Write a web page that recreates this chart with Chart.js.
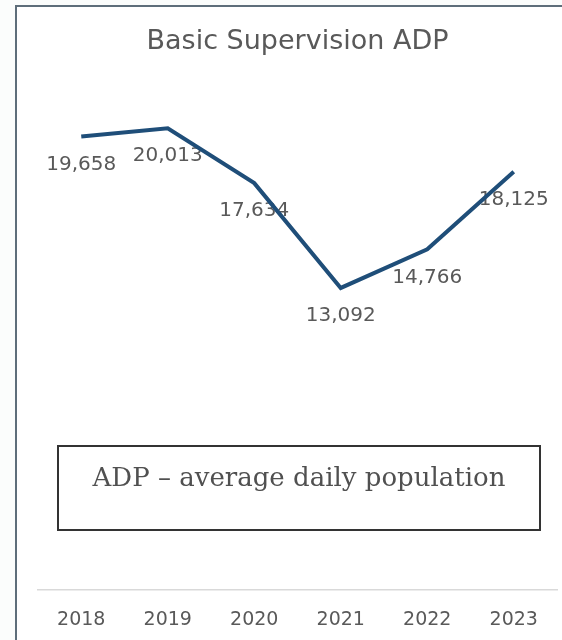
<!DOCTYPE html>
<html>
<head>
<meta charset="utf-8">
<script src="https://cdn.jsdelivr.net/npm/chart.js@4"></script>
<style>
  html, body { margin: 0; padding: 0; background: #fbfdfc; }
  #frame {
    position: absolute; left: 15px; top: 5px; width: 545px; height: 633px;
    border-left: 2px solid #5e6e7a; border-top: 2px solid #5e6e7a;
    background: #ffffff;
  }
  #chart { position: absolute; left: 0; top: 0; }
  #note {
    position: absolute; left: 40px; top: 438px; width: 484px; height: 86px;
    border: 2px solid #333333; box-sizing: border-box;
    font-family: "DejaVu Serif", serif; font-size: 26px; line-height: 30px;
    color: #505050; text-align: center; padding-top: 15px; white-space: nowrap;
  }
</style>
</head>
<body>
<div id="frame">
  <canvas id="chart" width="545" height="633"></canvas>
  <div id="note">ADP – average daily population</div>
</div>
<script>
// chart data
const years = ['2018', '2019', '2020', '2021', '2022', '2023'];
const adp = [19658, 20013, 17634, 13092, 14766, 18125];

// value labels under each point (drawn before the line, so the line sits on top)
const valueLabels = {
  id: 'valueLabels',
  beforeDatasetsDraw(chart) {
    const ctx = chart.ctx;
    const meta = chart.getDatasetMeta(0);
    ctx.save();
    ctx.font = '20px "DejaVu Sans"';
    ctx.fillStyle = '#595959';
    ctx.textAlign = 'center';
    ctx.textBaseline = 'middle';
    meta.data.forEach((pt, i) => {
      ctx.fillText(adp[i].toLocaleString('en-US'), pt.x, pt.y + 28);
    });
    ctx.restore();
  }
};

const ctx = document.getElementById('chart').getContext('2d');
new Chart(ctx, {
  type: 'line',
  data: {
    labels: years,
    datasets: [{
      label: 'ADP',
      data: adp,
      borderColor: '#1f4e79',
      borderWidth: 4,
      pointRadius: 0,
      tension: 0,
      fill: false
    }]
  },
  options: {
    responsive: false,
    animation: false,
    layout: { padding: { left: 21, right: 5, top: 0, bottom: 0 } },
    plugins: {
      legend: { display: false },
      tooltip: { enabled: false },
      title: {
        display: true,
        text: 'Basic Supervision ADP',
        color: '#595959',
        font: { family: 'DejaVu Sans', size: 27, weight: 'normal' },
        padding: { top: 19, bottom: 24 }
      }
    },
    scales: {
      x: {
        offset: true,
        grid: { display: false, drawTicks: false },
        border: { display: true, color: '#d9d9d9', width: 1.5 },
        ticks: {
          color: '#595959',
          font: { family: 'DejaVu Sans', size: 19 },
          padding: 19
        },
        afterFit(scale) { scale.height = 50; }
      },
      y: {
        display: false,
        min: 0,
        max: 22000
      }
    }
  },
  plugins: [valueLabels]
});
</script>
</body>
</html>
